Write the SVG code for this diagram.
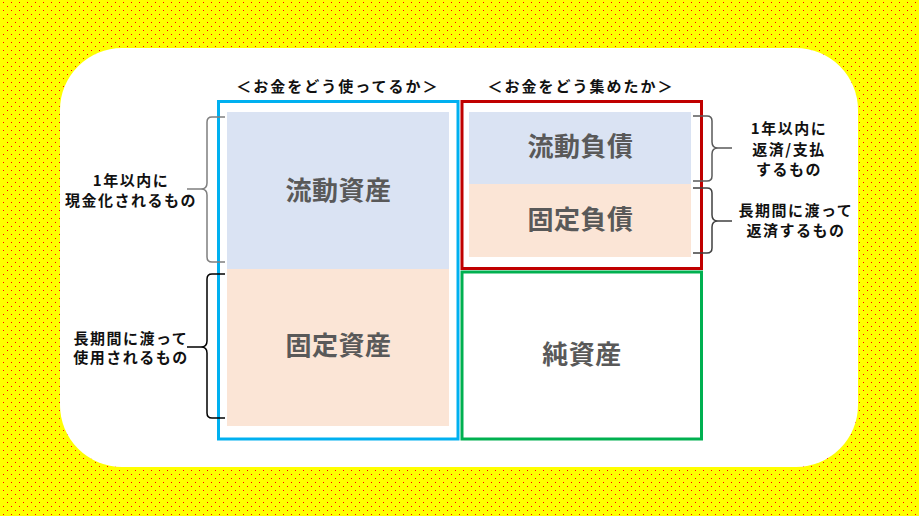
<svg xmlns="http://www.w3.org/2000/svg" width="919" height="516" viewBox="0 0 919 516">
<style>
.lbl{font-family:"Noto Sans CJK JP","Noto Sans",sans-serif;font-weight:bold;font-size:15px;letter-spacing:1.5px;fill:#111;text-anchor:middle}
.hdr{font-family:"Noto Sans CJK JP","Noto Sans",sans-serif;font-weight:bold;font-size:15px;letter-spacing:2px;fill:#111;text-anchor:middle}
.big{font-family:"Noto Sans CJK JP","Noto Sans",sans-serif;font-weight:bold;font-size:26px;letter-spacing:0.5px;fill:#595959;text-anchor:middle}
.brace{fill:none;stroke-width:1.5}
</style>
<defs>
<pattern id="dots" width="8" height="8" patternUnits="userSpaceOnUse">
<rect width="8" height="8" fill="#FFFF00"/>
<rect x="3" y="2" width="1" height="1" fill="#FF0000"/>
<rect x="7" y="6" width="1" height="1" fill="#FF0000"/>
</pattern>
</defs>
<rect width="919" height="516" fill="url(#dots)"/>
<rect x="60" y="48" width="798" height="419" rx="62" ry="62" fill="#FFFFFF"/>

<g id="headers">
<text class="hdr" x="338" y="91.5">＜お金をどう使ってるか＞</text>
<text class="hdr" x="581" y="91.5">＜お金をどう集めたか＞</text>
</g>

<g id="assets">
<rect x="218.5" y="101.5" width="239.5" height="337.5" fill="#FFFFFF" stroke="#00B0F0" stroke-width="3"/>
</g>
<g id="current-assets">
<rect x="227" y="112" width="222" height="157" fill="#DAE3F3"/>
<text class="big" x="338.5" y="200">流動資産</text>
</g>
<g id="fixed-assets">
<rect x="227" y="269" width="222" height="157" fill="#FBE5D6"/>
<text class="big" x="338.5" y="355">固定資産</text>
</g>

<g id="liabilities">
<rect x="462" y="101.5" width="239.5" height="167" fill="#FFFFFF" stroke="#C00000" stroke-width="3"/>
</g>
<g id="current-liabilities">
<rect x="469" y="112" width="222" height="72" fill="#DAE3F3"/>
<text class="big" x="580.5" y="156">流動負債</text>
</g>
<g id="fixed-liabilities">
<rect x="469" y="184" width="222" height="73" fill="#FBE5D6"/>
<text class="big" x="580.5" y="229">固定負債</text>
</g>

<g id="net-assets">
<rect x="462" y="272" width="239.5" height="167" fill="#FFFFFF" stroke="#00B050" stroke-width="3"/>
<text class="big" x="582" y="364">純資産</text>
</g>

<g id="label-current-assets">
<text class="lbl" x="131" y="185.5">1年以内に</text>
<text class="lbl" x="131" y="205.5">現金化されるもの</text>
</g>
<g id="label-fixed-assets">
<text class="lbl" x="131" y="343.5">長期間に渡って</text>
<text class="lbl" x="131" y="362.5">使用されるもの</text>
</g>
<g id="label-current-liabilities">
<text class="lbl" x="789" y="134">1年以内に</text>
<text class="lbl" x="789" y="154.5">返済/支払</text>
<text class="lbl" x="789" y="175">するもの</text>
</g>
<g id="label-fixed-liabilities">
<text class="lbl" x="796" y="215.5">長期間に渡って</text>
<text class="lbl" x="796" y="235.5">返済するもの</text>
</g>

<g id="connectors">
<path class="brace" stroke="#7F7F7F" d="M225,117 H212 Q207,117 207,122 V183 Q207,189 201,189 H187 M201,189 Q207,189 207,195 V257 Q207,262 212,262 H225"/>
<path class="brace" stroke="#000000" d="M225,274 H212 Q207,274 207,279 V341 Q207,347 201,347 H187 M201,347 Q207,347 207,353 V413 Q207,418 212,418 H225"/>
<path class="brace" stroke="#595959" d="M693,116 H707 Q712,116 712,121 V142 Q712,148 718,148 H732 M718,148 Q712,148 712,154 V176 Q712,181 707,181 H693"/>
<path class="brace" stroke="#404040" d="M693,188 H707 Q712,188 712,193 V215 Q712,221 718,221 H732 M718,221 Q712,221 712,227 V248 Q712,253 707,253 H693"/>
</g>
</svg>
